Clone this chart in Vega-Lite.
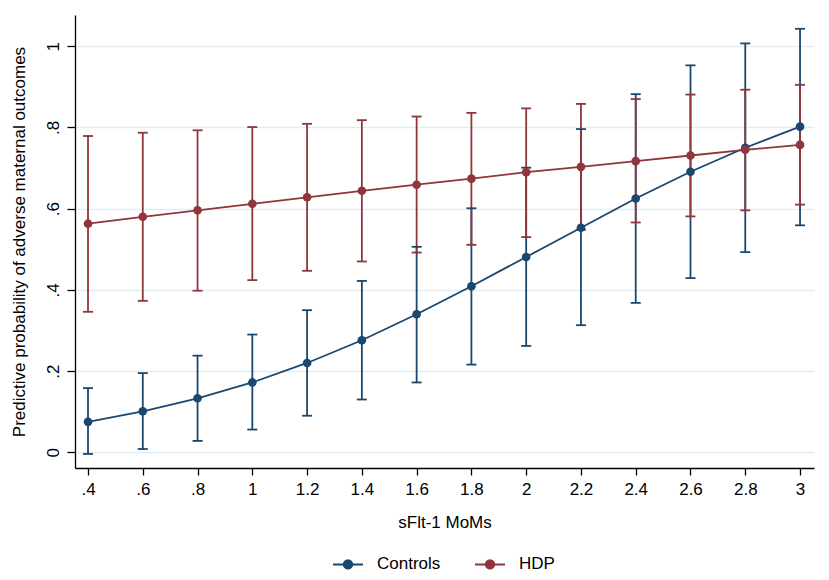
{
  "$schema": "https://vega.github.io/schema/vega-lite/v6.json",
  "width": 739,
  "height": 453,
  "autosize": "none",
  "padding": {"left": 75, "top": 15, "right": 15, "bottom": 112},
  "background": "white",
  "data": {
    "values": [
      {"mom": 0.4, "group": "Controls", "est": 0.075, "lo": -0.004, "hi": 0.158},
      {"mom": 0.6, "group": "Controls", "est": 0.101, "lo": 0.008, "hi": 0.195},
      {"mom": 0.8, "group": "Controls", "est": 0.133, "lo": 0.028, "hi": 0.238},
      {"mom": 1.0, "group": "Controls", "est": 0.172, "lo": 0.056, "hi": 0.290},
      {"mom": 1.2, "group": "Controls", "est": 0.220, "lo": 0.090, "hi": 0.350},
      {"mom": 1.4, "group": "Controls", "est": 0.276, "lo": 0.130, "hi": 0.422},
      {"mom": 1.6, "group": "Controls", "est": 0.340, "lo": 0.172, "hi": 0.506},
      {"mom": 1.8, "group": "Controls", "est": 0.409, "lo": 0.216, "hi": 0.601},
      {"mom": 2.0, "group": "Controls", "est": 0.481, "lo": 0.262, "hi": 0.701},
      {"mom": 2.2, "group": "Controls", "est": 0.553, "lo": 0.313, "hi": 0.796},
      {"mom": 2.4, "group": "Controls", "est": 0.625, "lo": 0.368, "hi": 0.882},
      {"mom": 2.6, "group": "Controls", "est": 0.691, "lo": 0.429, "hi": 0.953},
      {"mom": 2.8, "group": "Controls", "est": 0.750, "lo": 0.493, "hi": 1.007},
      {"mom": 3.0, "group": "Controls", "est": 0.802, "lo": 0.559, "hi": 1.043},
      {"mom": 0.4, "group": "HDP", "est": 0.563, "lo": 0.346, "hi": 0.779},
      {"mom": 0.6, "group": "HDP", "est": 0.580, "lo": 0.373, "hi": 0.787},
      {"mom": 0.8, "group": "HDP", "est": 0.596, "lo": 0.398, "hi": 0.793},
      {"mom": 1.0, "group": "HDP", "est": 0.612, "lo": 0.424, "hi": 0.801},
      {"mom": 1.2, "group": "HDP", "est": 0.628, "lo": 0.447, "hi": 0.809},
      {"mom": 1.4, "group": "HDP", "est": 0.644, "lo": 0.470, "hi": 0.818},
      {"mom": 1.6, "group": "HDP", "est": 0.659, "lo": 0.492, "hi": 0.827},
      {"mom": 1.8, "group": "HDP", "est": 0.674, "lo": 0.511, "hi": 0.836},
      {"mom": 2.0, "group": "HDP", "est": 0.690, "lo": 0.530, "hi": 0.847},
      {"mom": 2.2, "group": "HDP", "est": 0.703, "lo": 0.548, "hi": 0.858},
      {"mom": 2.4, "group": "HDP", "est": 0.717, "lo": 0.566, "hi": 0.870},
      {"mom": 2.6, "group": "HDP", "est": 0.731, "lo": 0.581, "hi": 0.881},
      {"mom": 2.8, "group": "HDP", "est": 0.745, "lo": 0.596, "hi": 0.893},
      {"mom": 3.0, "group": "HDP", "est": 0.757, "lo": 0.610, "hi": 0.905}
    ]
  },
  "encoding": {
    "x": {
      "field": "mom",
      "type": "quantitative",
      "title": "sFlt-1 MoMs",
      "scale": {"domain": [0.3525, 3.051], "nice": false, "zero": false},
      "axis": {
        "values": [0.4, 0.6, 0.8, 1, 1.2, 1.4, 1.6, 1.8, 2, 2.2, 2.4, 2.6, 2.8, 3],
        "labelExpr": "datum.value < 1 ? '.' + round(datum.value * 10) : format(datum.value, '.1~f')",
        "grid": false,
        "tickSize": 7,
        "labelPadding": 6,
        "titlePadding": 17,
        "labelFlush": false
      }
    },
    "color": {
      "field": "group",
      "type": "nominal",
      "scale": {"domain": ["Controls", "HDP"], "range": ["#1a476f", "#90353b"]},
      "legend": {
        "orient": "none",
        "legendX": 257,
        "legendY": 533,
        "direction": "horizontal",
        "title": null,
        "padding": 0,
        "symbolType": "M-1,0L1,0M-0.28,0A0.28,0.28,0,1,1,0.28,0A0.28,0.28,0,1,1,-0.28,0Z",
        "symbolSize": 900,
        "symbolStrokeWidth": 2,
        "labelOffset": 13,
        "columnPadding": 30,
        "labelFontSize": 17,
        "labelColor": "#000",
        "encode": {
          "symbols": {
            "update": {
              "stroke": {"scale": "color", "field": "value"},
              "fill": {"scale": "color", "field": "value"},
              "strokeWidth": {"value": 2},
              "opacity": {"value": 1}
            }
          }
        }
      }
    }
  },
  "layer": [
    {
      "mark": {"type": "rule", "strokeWidth": 1.8},
      "encoding": {
        "y": {
          "field": "lo",
          "type": "quantitative",
          "title": "Predictive probability of adverse maternal outcomes",
          "scale": {"domain": [-0.0387, 1.077], "nice": false, "zero": false},
          "axis": {
            "values": [0, 0.2, 0.4, 0.6, 0.8, 1],
            "labelExpr": "datum.value == 0 ? '0' : datum.value == 1 ? '1' : '.' + round(datum.value * 10)",
            "labelAngle": -90,
            "labelAlign": "center",
            "labelBaseline": "bottom",
            "labelPadding": 5,
            "tickSize": 8,
            "grid": true,
            "gridColor": "#e3edf1",
            "gridWidth": 1.3,
            "titlePadding": 16
          }
        },
        "y2": {"field": "hi"}
      }
    },
    {
      "mark": {"type": "point", "shape": "stroke", "size": 100, "strokeWidth": 1.8, "filled": false, "opacity": 1},
      "encoding": {
        "y": {"field": "lo", "type": "quantitative", "title": "Predictive probability of adverse maternal outcomes", "scale": {"domain": [-0.0387, 1.077], "nice": false, "zero": false}}
      }
    },
    {
      "mark": {"type": "point", "shape": "stroke", "size": 100, "strokeWidth": 1.8, "filled": false, "opacity": 1},
      "encoding": {
        "y": {"field": "hi", "type": "quantitative", "title": "Predictive probability of adverse maternal outcomes", "scale": {"domain": [-0.0387, 1.077], "nice": false, "zero": false}}
      }
    },
    {
      "mark": {"type": "line", "strokeWidth": 1.8},
      "encoding": {
        "y": {"field": "est", "type": "quantitative", "title": "Predictive probability of adverse maternal outcomes", "scale": {"domain": [-0.0387, 1.077], "nice": false, "zero": false}}
      }
    },
    {
      "mark": {"type": "point", "filled": true, "size": 75, "opacity": 1},
      "encoding": {
        "y": {"field": "est", "type": "quantitative", "title": "Predictive probability of adverse maternal outcomes", "scale": {"domain": [-0.0387, 1.077], "nice": false, "zero": false}}
      }
    }
  ],
  "config": {
    "font": "Liberation Sans",
    "view": {"stroke": null},
    "axis": {
      "domainColor": "#000",
      "domainWidth": 1.3,
      "tickColor": "#000",
      "tickWidth": 1.3,
      "labelColor": "#000",
      "titleColor": "#000",
      "labelFontSize": 17,
      "titleFontSize": 17,
      "titleFontWeight": "normal"
    }
  }
}
